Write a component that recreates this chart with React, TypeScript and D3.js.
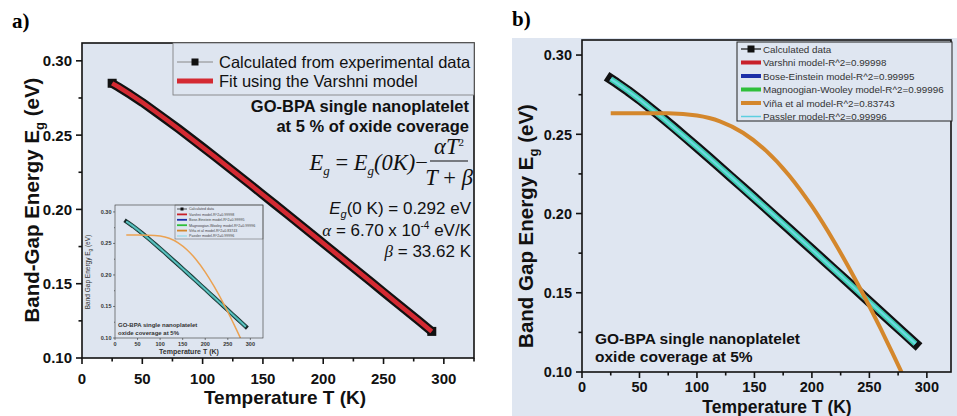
import React from "react";
import * as d3 from "d3";

// Band-gap energy vs temperature (GO-BPA single nanoplatelet, 5 % oxide coverage)
const temperatureK = [25, 30, 40, 50, 60, 70, 80, 90, 100, 110, 120, 130, 140, 150, 160, 170, 180, 190, 200, 210, 220, 230, 240, 250, 260, 270, 280, 290];
const calcEnergy = [0.2849, 0.2825, 0.2774, 0.272, 0.2662, 0.2603, 0.2543, 0.2481, 0.2419, 0.2356, 0.2292, 0.2228, 0.2164, 0.2099, 0.2034, 0.1969, 0.1904, 0.1838, 0.1773, 0.1707, 0.1641, 0.1576, 0.151, 0.1443, 0.1377, 0.1311, 0.1245, 0.1179];

// Viña et al. model curve
const vinaT = [25, 50, 75, 100, 120, 140, 160, 180, 200, 220, 240, 250, 260, 270, 278];
const vinaE = [0.2633, 0.2633, 0.2632, 0.2618, 0.2582, 0.251, 0.2397, 0.2242, 0.2046, 0.1814, 0.1554, 0.1415, 0.127, 0.112, 0.0998];

// Varshni fit parameters (as printed)
const E0 = 0.292;
const ALPHA = 6.7e-4;
const BETA = 33.62;

const xTicks = [0, 50, 100, 150, 200, 250, 300];
const xMinor = [25, 75, 125, 175, 225, 275, 325];
const yTicks = [0.1, 0.15, 0.2, 0.25, 0.3];
const yMinor = [0.125, 0.175, 0.225, 0.275];

const legendA = ["Calculated from experimental data", "Fit using the Varshni model"];
const legendB = [
  "Calculated data",
  "Varshni model-R^2=0.99998",
  "Bose-Einstein model-R^2=0.99995",
  "Magnoogian-Wooley model-R^2=0.99996",
  "Viña et al model-R^2=0.83743",
  "Passler model-R^2=0.99996",
];
const legendBColors = ["#111", "#c8202a", "#1c2fa8", "#2fbf3a", "#d4872c", "#5ccfe0"];

const SANS = "'Liberation Sans', Arial, Helvetica, sans-serif";
const SERIF = "'Liberation Serif', 'Times New Roman', serif";

type Pt = [number, number];
const calcPts: Pt[] = temperatureK.map((t, i) => [t, calcEnergy[i]]);
const varshniPts: Pt[] = temperatureK.map((t) => [t, E0 - (ALPHA * t * t) / (t + BETA)]);
const vinaPts: Pt[] = vinaT.map((t, i) => [t, vinaE[i]]);

type AxisProps = {
  xs: d3.ScaleLinear<number, number>;
  ys: d3.ScaleLinear<number, number>;
  fontSize: number;
  tickLen: number;
  minorLen: number;
  xLabelDy: number;
  yLabelGap: number;
  stroke: number;
  color?: string;
  weight?: string | number;
  xTickVals?: number[];
  xMinorVals?: number[];
};

function AxisBox({ xs, ys, fontSize, tickLen, minorLen, xLabelDy, yLabelGap, stroke, color = "#111", weight = "bold", xTickVals = xTicks, xMinorVals = xMinor }: AxisProps) {
  const [x0, x1] = xs.range();
  const [y0, y1] = ys.range();
  const dom = xs.domain();
  return (
    <g>
      <rect x={x0} y={y1} width={x1 - x0} height={y0 - y1} fill="none" stroke={color} strokeWidth={stroke} />
      {xTickVals.map((t) => (
        <g key={"xt" + t}>
          <line x1={xs(t)} x2={xs(t)} y1={y0} y2={y0 + tickLen} stroke={color} strokeWidth={stroke} />
          <text x={xs(t)} y={y0 + xLabelDy} textAnchor="middle" fontFamily={SANS} fontSize={fontSize} fontWeight={weight} fill={color}>
            {t}
          </text>
        </g>
      ))}
      {xMinorVals.filter((t) => t <= dom[1]).map((t) => (
        <line key={"xm" + t} x1={xs(t)} x2={xs(t)} y1={y0} y2={y0 + minorLen} stroke={color} strokeWidth={stroke} />
      ))}
      {yTicks.map((v) => (
        <g key={"yt" + v}>
          <line x1={x0 - tickLen} x2={x0} y1={ys(v)} y2={ys(v)} stroke={color} strokeWidth={stroke} />
          <text x={x0 - yLabelGap} y={ys(v)} dy="0.36em" textAnchor="end" fontFamily={SANS} fontSize={fontSize} fontWeight={weight} fill={color}>
            {v.toFixed(2)}
          </text>
        </g>
      ))}
      {yMinor.map((v) => (
        <line key={"ym" + v} x1={x0 - minorLen} x2={x0} y1={ys(v)} y2={ys(v)} stroke={color} strokeWidth={stroke} />
      ))}
    </g>
  );
}

export default function App() {
  // Panel a scales
  const xA = d3.scaleLinear().domain([0, 325]).range([82, 474]);
  const yA = d3.scaleLinear().domain([0.1, 0.312]).range([358, 43]);
  // Inset scales
  const xI = d3.scaleLinear().domain([0, 328]).range([115, 263]);
  const yI = d3.scaleLinear().domain([0.1, 0.311]).range([338, 205]);
  // Panel b scales
  const xB = d3.scaleLinear().domain([0, 321]).range([582, 951]);
  const yB = d3.scaleLinear().domain([0.1, 0.3095]).range([372, 40]);

  const lineA = d3.line<Pt>().x((d) => xA(d[0])).y((d) => yA(d[1]));
  const lineI = d3.line<Pt>().x((d) => xI(d[0])).y((d) => yI(d[1]));
  const lineICurve = d3.line<Pt>().x((d) => xI(d[0])).y((d) => yI(d[1])).curve(d3.curveMonotoneX);
  const lineB = d3.line<Pt>().x((d) => xB(d[0])).y((d) => yB(d[1]));
  const lineBCurve = d3.line<Pt>().x((d) => xB(d[0])).y((d) => yB(d[1])).curve(d3.curveMonotoneX);

  const bgA = "#dee5f0";
  const bgB = "#dfe6f1";
  const ends = [calcPts[0], calcPts[calcPts.length - 1]];

  return (
    <svg width={957} height={416} style={{ position: "absolute", left: 0, top: 0 }} xmlns="http://www.w3.org/2000/svg">
      <defs>
        <clipPath id="clipA">
          <rect x={82} y={43} width={392} height={315} />
        </clipPath>
        <clipPath id="clipI">
          <rect x={115} y={205} width={148} height={133} />
        </clipPath>
        <clipPath id="clipB">
          <rect x={582} y={40} width={369} height={332} />
        </clipPath>
      </defs>
      <rect x={0} y={0} width={957} height={416} fill="#ffffff" />

      {/* ---------- Panel a ---------- */}
      <text x={12} y={28} fontFamily={SERIF} fontWeight="bold" fontSize={21}>a)</text>
      <rect x={82} y={43} width={392} height={315} fill={bgA} />

      {/* inset */}
      <g>
        <g clipPath="url(#clipI)">
          <path d={lineI(calcPts) ?? ""} fill="none" stroke="#1a2a2a" strokeWidth={4.2} strokeLinecap="square" />
          <path d={lineI(varshniPts) ?? ""} fill="none" stroke="#3aa8a0" strokeWidth={2.6} />
          <path d={lineI(varshniPts) ?? ""} fill="none" stroke="#78c8d0" strokeWidth={1} />
          <path d={lineICurve(vinaPts) ?? ""} fill="none" stroke="#eba252" strokeWidth={1.5} />
        </g>
        <AxisBox xs={xI} ys={yI} fontSize={5.5} tickLen={2} minorLen={1} xLabelDy={8} yLabelGap={3.5} stroke={0.6} color="#333" weight="bold" xMinorVals={[]} />
        <text x={189} y={354} textAnchor="middle" fontFamily={SANS} fontSize={7} fontWeight="bold" fill="#333">Temperature T (K)</text>
        <text transform="translate(90,272) rotate(-90)" textAnchor="middle" fontFamily={SANS} fontSize={6.5} fill="#333">
          Band Gap Energy E<tspan dy={1.5} fontSize={4.5}>g</tspan><tspan dy={-1.5}> (eV)</tspan>
        </text>
        <rect x={175} y={205} width={88} height={34} fill="none" stroke="#555" strokeWidth={0.5} />
        {legendB.map((s, i) => (
          <g key={"li" + i}>
            <line x1={177} x2={187} y1={209 + i * 5.4} y2={209 + i * 5.4} stroke={legendBColors[i]} strokeWidth={i === 0 || i === 5 ? 0.7 : 1.8} />
            {i === 0 && <rect x={180.5} y={207.5} width={3} height={3} fill="#111" />}
            <text x={189} y={210.3 + i * 5.4} fontFamily={SANS} fontSize={3.6} fill="#444">{s}</text>
          </g>
        ))}
        <text x={118} y={327} fontFamily={SANS} fontSize={6} fontWeight="bold" fill="#333">GO-BPA single nanoplatelet</text>
        <text x={118} y={335} fontFamily={SANS} fontSize={6} fontWeight="bold" fill="#333">oxide coverage at 5%</text>
      </g>

      {/* main data: calculated points form the black band, Varshni fit in red on top */}
      <g clipPath="url(#clipA)">
        <path d={lineA(calcPts) ?? ""} fill="none" stroke="#111" strokeWidth={9} strokeLinejoin="round" />
        {ends.map((d, i) => (
          <rect key={"sq" + i} x={xA(d[0]) - 4.5} y={yA(d[1]) - 4.5} width={9} height={9} fill="#111" />
        ))}
        <path d={lineA(varshniPts) ?? ""} fill="none" stroke="#d42a32" strokeWidth={4.5} />
      </g>

      <AxisBox xs={xA} ys={yA} fontSize={15} tickLen={6} minorLen={3.5} xLabelDy={26} yLabelGap={10} stroke={1.6} />
      <text x={285} y={404} textAnchor="middle" fontFamily={SANS} fontSize={19} fontWeight="bold" fill="#111">Temperature T (K)</text>
      <text transform="translate(39,200) rotate(-90)" textAnchor="middle" fontFamily={SANS} fontSize={20.5} fontWeight="bold" fill="#111">
        Band-Gap Energy E<tspan dy={5} fontSize={13}>g</tspan><tspan dy={-5}> (eV)</tspan>
      </text>

      {/* legend a */}
      <rect x={173} y={43} width={301} height={52} fill={bgA} stroke="#777" strokeWidth={0.8} />
      <line x1={177} x2={213} y1={62} y2={62} stroke="#888" strokeWidth={1} />
      <rect x={191.5} y={58.5} width={7} height={7} fill="#111" />
      <text x={219} y={68} fontFamily={SANS} fontSize={16.5} fill="#111">{legendA[0]}</text>
      <line x1={177} x2={213} y1={81} y2={81} stroke="#d42a32" strokeWidth={5} />
      <text x={219} y={87} fontFamily={SANS} fontSize={16.5} fill="#111">{legendA[1]}</text>

      {/* annotation a */}
      <text x={469} y={112} textAnchor="end" fontFamily={SANS} fontSize={16.5} fontWeight="bold" fill="#111">GO-BPA single nanoplatelet</text>
      <text x={469} y={132} textAnchor="end" fontFamily={SANS} fontSize={16.5} fontWeight="bold" fill="#111">at 5 % of oxide coverage</text>

      <text x={428} y={170} textAnchor="end" fontFamily={SERIF} fontSize={22.5} fontStyle="italic" fill="#111">
        E<tspan dy={5} fontSize={13}>g</tspan>
        <tspan dy={-5} fontStyle="normal"> = </tspan>
        E<tspan dy={5} fontSize={13}>g</tspan>
        <tspan dy={-5}>(0K)</tspan>
        <tspan fontStyle="normal">{"\u2212"}</tspan>
      </text>
      <text x={449} y={154} textAnchor="middle" fontFamily={SERIF} fontSize={22.5} fontStyle="italic" fill="#111">
        {"\u03B1"}T<tspan dy={-8} fontSize={11} fontStyle="normal">2</tspan>
      </text>
      <line x1={430} x2={468} y1={161} y2={161} stroke="#111" strokeWidth={1.2} />
      <text x={449} y={185} textAnchor="middle" fontFamily={SERIF} fontSize={22.5} fontStyle="italic" fill="#111">
        T<tspan fontStyle="normal"> + </tspan>{"\u03B2"}
      </text>

      <text x={471} y={214} textAnchor="end" fontFamily={SANS} fontSize={17} fill="#111">
        <tspan fontStyle="italic">E</tspan><tspan dy={4} fontSize={11} fontStyle="italic">g</tspan><tspan dy={-4}>(0 K) = {E0.toFixed(3)} eV</tspan>
      </text>
      <text x={471} y={236} textAnchor="end" fontFamily={SANS} fontSize={17} fill="#111">
        <tspan fontFamily={SERIF} fontStyle="italic">{"\u03B1"}</tspan> = 6.70 x 10<tspan dy={-7} fontSize={10}>-4</tspan><tspan dy={7}> eV/K</tspan>
      </text>
      <text x={471} y={257} textAnchor="end" fontFamily={SANS} fontSize={17} fill="#111">
        <tspan fontFamily={SERIF} fontStyle="italic">{"\u03B2"}</tspan> = {BETA.toFixed(2)} K
      </text>

      {/* ---------- Panel b ---------- */}
      <text x={512} y={26} fontFamily={SERIF} fontWeight="bold" fontSize={21}>b)</text>
      <rect x={512} y={38} width={445} height={378} fill={bgB} />

      <g clipPath="url(#clipB)">
        <path d={lineB(calcPts) ?? ""} fill="none" stroke="#111" strokeWidth={10} strokeLinecap="square" strokeLinejoin="round" />
        <path d={lineB(varshniPts) ?? ""} fill="none" stroke="#c8202a" strokeWidth={5.5} />
        <path d={lineB(varshniPts) ?? ""} fill="none" stroke="#1c2fa8" strokeWidth={5.5} />
        <path d={lineB(varshniPts) ?? ""} fill="none" stroke="#3ccfa8" strokeWidth={5.5} />
        <path d={lineB(varshniPts) ?? ""} fill="none" stroke="#6ad8e2" strokeWidth={2.2} />
        <path d={lineBCurve(vinaPts) ?? ""} fill="none" stroke="#d4872c" strokeWidth={4} />
      </g>

      <AxisBox xs={xB} ys={yB} fontSize={14.5} tickLen={6} minorLen={3.5} xLabelDy={20} yLabelGap={10} stroke={1.6} />
      <text x={777} y={413} textAnchor="middle" fontFamily={SANS} fontSize={17.5} fontWeight="bold" fill="#111">Temperature T (K)</text>
      <text transform="translate(533,226) rotate(-90)" textAnchor="middle" fontFamily={SANS} fontSize={20.5} fontWeight="bold" fill="#111">
        Band Gap Energy E<tspan dy={5} fontSize={13}>g</tspan><tspan dy={-5}> (eV)</tspan>
      </text>

      {/* legend b */}
      <rect x={737} y={42} width={215} height={79} fill={bgB} stroke="#222" strokeWidth={1} />
      {legendB.map((s, i) => (
        <g key={"lb" + i}>
          <line x1={741} x2={761} y1={49 + i * 13.5} y2={49 + i * 13.5} stroke={legendBColors[i]} strokeWidth={i === 0 ? 1.2 : i === 5 ? 1.5 : 4} />
          {i === 0 && <rect x={747.5} y={45.5} width={7} height={7} fill="#111" />}
          <text x={763} y={52.6 + i * 13.5} fontFamily={SANS} fontSize={9.8} fill="#333">{s}</text>
        </g>
      ))}

      <text x={595} y={344} fontFamily={SANS} fontSize={15.5} fontWeight="bold" fill="#111">GO-BPA single nanoplatelet</text>
      <text x={595} y={362} fontFamily={SANS} fontSize={15.5} fontWeight="bold" fill="#111">oxide coverage at 5%</text>
    </svg>
  );
}
